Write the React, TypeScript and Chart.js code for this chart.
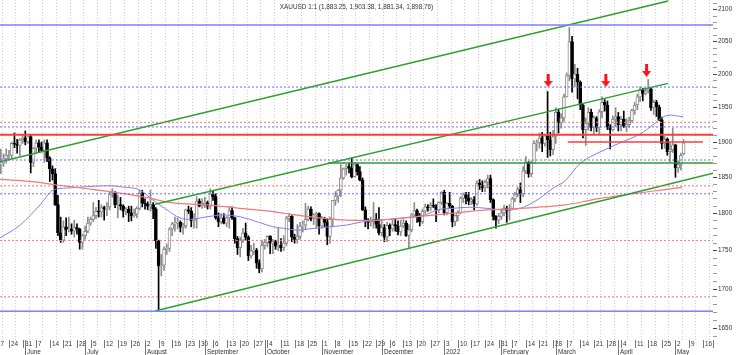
import React, { useEffect, useRef } from "react";
import { Chart, registerables } from "chart.js";

Chart.register(...registerables);

const TITLE = "XAUUSD 1:1 (1,883.25, 1,903.38, 1,881.34, 1,898.76)";

// Daily bars, index 0 = Mon 17 May 2021 (trading days only)
const opens = [
  1838,1867,1869,1870,1876, 1881,1881,1898,1897,1895,
  1903,1906,1900,1908,1871, 1891,1899,1893,1888,1899,
  1877,1862,1855,1812,1774, 1764,1782,1778,1779,1776,
  1781,1779,1761,1770,1776, 1787,1792,1797,1803,1802,
  1808,1806,1809,1826,1829, 1812,1812,1810,1803,1806,
  1801,1797,1799,1807,1828, 1814,1813,1810,1812,1806,
  1763,1730,1731,1752,1753, 1779,1786,1787,1788,1781,
  1783,1805,1803,1790,1793, 1817,1810,1814,1815,1810,
  1827,1823,1794,1789,1794, 1787,1794,1804,1794,1766,
  1754,1764,1774,1768,1743, 1750,1751,1734,1726,1757,
  1761,1769,1760,1762,1756, 1757,1754,1760,1793,1796,
  1768,1765,1769,1783,1784, 1792,1806,1793,1798,1800,
  1783,1793,1788,1769,1792, 1818,1824,1832,1849,1862,
  1865,1863,1851,1868,1858, 1846,1805,1790,1788,1789,
  1792,1785,1774,1781,1768, 1784,1779,1785,1783,1775,
  1783,1787,1770,1778,1798, 1804,1795,1789,1803,1809,
  1808,1811,1810,1805,1815, 1829,1801,1814,1810,1789,
  1797,1801,1821,1826,1821, 1817,1819,1813,1842,1839,
  1835,1843,1848,1819,1796, 1791,1796,1801,1807,1804,
  1807,1820,1826,1833,1827, 1859,1871,1855,1870,1898,
  1899,1906,1898,1909,1903, 1889,1908,1943,1928,1935,
  1966,1998,2050,1993,2000, 1988,1954,1918,1927,1943,
  1921,1935,1921,1944,1958, 1954,1922,1918,1933,1937,
  1925,1933,1923,1925,1931, 1946,1954,1966,1977,1971,
  1975,1978,1950,1958,1951, 1932,1898,1904,1886,1889,
  1896,1863,1868,1883.25,
];
const highs = [
  1869,1874,1890,1883,1890, 1888,1900,1913,1904,1905,
  1910,1916,1908,1910,1892, 1903,1903,1900,1903,1903,
  1879,1866,1862,1825,1795, 1790,1794,1795,1786,1791,
  1786,1780,1772,1783,1795, 1795,1815,1808,1818,1812,
  1810,1815,1829,1834,1830, 1825,1822,1812,1808,1810,
  1810,1806,1809,1832,1832, 1820,1816,1832,1815,1808,
  1764,1745,1755,1759,1781, 1788,1795,1794,1790,1787,
  1806,1810,1808,1800,1823, 1820,1820,1822,1817,1834,
  1831,1827,1801,1800,1800, 1796,1809,1809,1795,1769,
  1768,1780,1787,1770,1757, 1760,1753,1738,1764,1765,
  1770,1770,1765,1764,1781, 1766,1770,1796,1800,1797,
  1772,1785,1788,1790,1814, 1810,1809,1800,1802,1801,
  1796,1795,1792,1795,1818, 1830,1833,1868,1863,1868,
  1870,1877,1870,1869,1865, 1849,1809,1793,1795,1815,
  1800,1808,1792,1785,1788, 1786,1793,1793,1790,1791,
  1792,1790,1785,1800,1815, 1806,1800,1806,1813,1812,
  1815,1820,1812,1816,1830, 1832,1815,1829,1811,1798,
  1804,1823,1828,1829,1829, 1822,1823,1845,1847,1845,
  1846,1853,1853,1820,1797, 1800,1806,1811,1810,1812,
  1822,1829,1836,1842,1865, 1879,1872,1873,1902,1903,
  1913,1914,1911,1974,1914, 1917,1950,1948,1941,1970,
  2002,2072,2058,2015,2009, 1990,1955,1935,1950,1948,
  1938,1937,1947,1966,1962, 1960,1925,1938,1950,1943,
  1937,1945,1934,1936,1948, 1958,1970,1981,1979,1979,
  1992,1980,1961,1961,1954, 1936,1908,1906,1899,1920,
  1897,1873,1884,1903.38,
];
const lows = [
  1837,1860,1855,1865,1870, 1874,1877,1892,1884,1880,
  1898,1896,1898,1856,1865, 1885,1885,1886,1871,1872,
  1844,1846,1811,1770,1761, 1761,1770,1775,1772,1768,
  1772,1752,1752,1765,1774, 1784,1789,1793,1795,1795,
  1791,1797,1805,1822,1808, 1794,1805,1795,1798,1789,
  1790,1795,1794,1805,1809, 1806,1805,1803,1793,1753,
  1673,1717,1724,1745,1749, 1770,1776,1779,1775,1772,
  1780,1800,1782,1780,1780, 1809,1807,1808,1806,1806,
  1818,1792,1782,1786,1786, 1782,1780,1792,1760,1745,
  1742,1761,1764,1737,1740, 1745,1727,1721,1722,1752,
  1755,1746,1746,1752,1750, 1749,1750,1757,1789,1762,
  1760,1760,1765,1775,1778, 1790,1790,1785,1780,1772,
  1780,1782,1758,1760,1782, 1811,1815,1823,1847,1853,
  1856,1849,1850,1853,1845, 1804,1782,1779,1783,1780,
  1780,1771,1770,1762,1762, 1770,1776,1776,1771,1770,
  1781,1769,1753,1775,1795, 1788,1783,1786,1800,1803,
  1804,1808,1789,1801,1812, 1798,1798,1807,1782,1783,
  1790,1800,1815,1813,1812, 1812,1805,1811,1833,1830,
  1830,1835,1815,1791,1780, 1786,1792,1797,1788,1791,
  1806,1816,1823,1815,1823, 1855,1850,1851,1869,1887,
  1891,1886,1894,1878,1880, 1882,1898,1913,1920,1930,
  1966,1990,1973,1981,1963, 1947,1906,1895,1917,1916,
  1911,1915,1911,1935,1945, 1918,1890,1916,1922,1916,
  1916,1921,1915,1921,1929, 1940,1947,1959,1960,1969,
  1972,1946,1940,1937,1931, 1890,1891,1881,1872,1885,
  1850,1857,1860,1881.34,
];
const closes = [
  1867,1869,1870,1876,1881, 1881,1898,1897,1895,1903,
  1906,1900,1908,1871,1891, 1899,1893,1888,1899,1877,
  1862,1855,1812,1774,1764, 1782,1778,1779,1776,1781,
  1779,1761,1770,1776,1787, 1792,1797,1803,1802,1808,
  1806,1809,1826,1829,1812, 1812,1810,1803,1806,1801,
  1797,1799,1807,1828,1814, 1813,1810,1812,1806,1763,
  1730,1731,1752,1753,1779, 1786,1787,1788,1781,1783,
  1805,1803,1790,1793,1817, 1810,1814,1815,1810,1827,
  1823,1794,1789,1794,1787, 1794,1804,1794,1766,1754,
  1764,1774,1768,1743,1750, 1751,1734,1726,1757,1761,
  1769,1760,1762,1756,1757, 1754,1760,1793,1796,1768,
  1765,1769,1783,1784,1792, 1806,1793,1798,1800,1783,
  1793,1788,1769,1792,1818, 1824,1832,1849,1862,1865,
  1863,1851,1868,1858,1846, 1805,1790,1788,1789,1792,
  1785,1774,1781,1768,1784, 1779,1785,1783,1775,1783,
  1787,1770,1778,1798,1804, 1795,1789,1803,1809,1808,
  1811,1810,1805,1815,1829, 1801,1814,1810,1789,1797,
  1801,1821,1826,1821,1817, 1819,1813,1842,1839,1835,
  1843,1848,1819,1796,1791, 1796,1801,1807,1804,1807,
  1820,1826,1833,1827,1859, 1871,1855,1870,1898,1899,
  1906,1898,1909,1903,1889, 1908,1943,1928,1935,1966,
  1998,2050,1993,2000,1988, 1954,1918,1927,1943,1921,
  1935,1921,1944,1958,1954, 1922,1918,1933,1937,1925,
  1933,1923,1925,1931,1946, 1954,1966,1977,1971,1975,
  1978,1950,1958,1951,1932, 1898,1904,1886,1889,1896,
  1863,1868,1881,1898.76,
];

// Moving averages (bar index, price)
const blueMaIdx = [1.7,9,16.4,21.2,26.3,32.2,42.1,45.8,53.2,57.9,63.1,67.9,71.5,77.8,83.7,89.9,96.2,102.1,106.5,110.9,116.8,123,129.3,135.1,141.4,147.6,153.5,157.9,162.4,168.2,174.4,180.7,186.6,192.9,199.1,205,209.4,215,222.3,229.6,237,242.5,245.1,248,252.8];
const blueMaVal = [1767,1784,1811.7,1832,1835,1836.5,1838.3,1836.8,1832,1818.4,1804.8,1793.8,1792,1795.5,1798,1795.5,1788.8,1782,1779.7,1777.4,1779.7,1782,1784.4,1788.8,1791,1793.4,1795.5,1798,1804.8,1807,1808.5,1807,1804.8,1807,1818.4,1834.7,1845,1869.6,1885.8,1898.6,1911.6,1927.2,1935.6,1939,1936.5];
const redMaIdx = [1.7,13.8,22.6,32.2,42.1,55,65.3,77.8,89.9,102.1,106.5,116.8,129.3,141.4,153.5,168.2,180.7,192.9,209.4,222.3,252.4];
const redMaVal = [1847,1843.8,1839.2,1834.7,1830,1822.3,1814.5,1811.7,1807,1802.4,1800,1795,1791,1791,1795,1800.5,1804.8,1807,1811.7,1820.7,1836];

// Trend channel lines (bar index, price)
const upperChannelIdx = [1.7, 247.3];
const upperChannelVal = [1871.8, 2113.9];
const middleChannelIdx = [58.7, 247.3];
const middleChannelVal = [1812.5, 1986.2];
const lowerChannelIdx = [58.7, 263.8];
const lowerChannelVal = [1672, 1855.6];

// Horizontal levels
const solidBlueLevels = [2075.8, 1671.7];
const dottedBlueLevels = [1980.7, 1921.8, 1874.3, 1827];
const dottedRedLevels = [1928.5, 1838, 1763.7, 1690];
const solidRedLevel = 1910.6;
const redSegmentIdx = [210.4, 260.1];
const redSegmentVal = 1900;
const greenSegmentIdx = [122.3, 263.8];
const greenSegmentVal = 1870;

// Arrows (bar index, price)
const arrowIdx = [203.2, 224.4, 239.4];
const arrowVal = [1990.5, 1990.5, 2005.6];

// Axis labels
const weekLabels = ["17","24","31","7","14","21","28","5","12","19","26","2","9","16","23","30","6","13","20","27","4","11","18","25","1","8","15","22","29","6","13","20","27","3","10","17","24","31","7","14","21","28","7","14","21","28","4","11","18","25","2","9","16"];
const monthLabels = ["June","July","August","September","October","November","December","2022","February","March","April","May"];
const monthStarts = [11,33,55,77,99,120,142,165,186,206,229,250];
const yTickValues: number[] = [];
for (let v = 1640; v <= 2110; v += 10) yTickValues.push(v);

const X_MIN = 1.7;
const X_MAX = 263.8;
const Y_MIN = 1635.7;
const Y_MAX = 2115.5;

const FONT = "'Liberation Sans', Arial, sans-serif";

export default function App() {
  const ref = useRef<HTMLCanvasElement>(null);

  useEffect(() => {
    const canvas = ref.current!;
    const n = closes.length;
    const idx = Array.from({ length: n }, (_, i) => i);
    const up = (i: number) => closes[i] >= opens[i];

    const arrow = document.createElement("canvas");
    arrow.width = 9;
    arrow.height = 13;
    const actx = arrow.getContext("2d")!;
    actx.fillStyle = "#ff1414";
    actx.fillRect(3, 0, 3, 7);
    actx.beginPath();
    actx.moveTo(0, 7);
    actx.lineTo(9, 7);
    actx.lineTo(4.5, 13);
    actx.closePath();
    actx.fill();

    const hLine = (price: number, color: string, width: number, dash: number[], from = X_MIN, to = X_MAX) => ({
      type: "line" as const,
      data: [{ x: from, y: price }, { x: to, y: price }],
      borderColor: color,
      borderWidth: width,
      borderDash: dash,
      pointRadius: 0,
      order: 0,
    });
    const seg = (xs: number[], ys: number[], color: string, width: number) => ({
      type: "line" as const,
      data: xs.map((x, k) => ({ x, y: ys[k] })),
      borderColor: color,
      borderWidth: width,
      pointRadius: 0,
      order: 0,
    });

    const datasets: any[] = [
      ...solidBlueLevels.map((p) => hLine(p, "#7f7fff", 1.6, [])),
      ...dottedBlueLevels.map((p) => hLine(p, "#6a6af0", 1, [2, 2])),
      ...dottedRedLevels.map((p) => hLine(p, "#f47878", 1, [2, 2])),
      hLine(solidRedLevel, "#ff3b3b", 2, []),
      hLine(redSegmentVal, "#ff3b3b", 1.4, [], redSegmentIdx[0], redSegmentIdx[1]),
      hLine(greenSegmentVal, "#2e9e2e", 1.5, [], greenSegmentIdx[0], greenSegmentIdx[1]),
      seg(upperChannelIdx, upperChannelVal, "#2e9e2e", 1.5),
      seg(middleChannelIdx, middleChannelVal, "#2e9e2e", 1.5),
      seg(lowerChannelIdx, lowerChannelVal, "#2e9e2e", 1.5),
      {
        type: "line",
        data: redMaIdx.map((x, k) => ({ x, y: redMaVal[k] })),
        borderColor: "#f07a7a",
        borderWidth: 1.2,
        pointRadius: 0,
        tension: 0.4,
        order: 0,
      },
      {
        type: "line",
        data: blueMaIdx.map((x, k) => ({ x, y: blueMaVal[k] })),
        borderColor: "#8080f2",
        borderWidth: 1,
        pointRadius: 0,
        cubicInterpolationMode: "monotone",
        order: 0,
      },
      {
        type: "line",
        data: arrowIdx.map((x, k) => ({ x, y: arrowVal[k] })),
        showLine: false,
        pointStyle: arrow,
        pointRadius: 6,
        order: 0,
      },
      {
        type: "bar",
        data: idx.map((i) => ({ x: i, y: [opens[i], closes[i]] })),
        backgroundColor: idx.map((i) => (up(i) ? "#ffffff" : "#000000")),
        borderColor: idx.map((i) => (up(i) ? "#8c8c8c" : "#000000")),
        borderWidth: 1,
        borderSkipped: false,
        barThickness: 3,
        grouped: false,
        order: 1,
      },
      {
        type: "bar",
        data: idx.map((i) => ({ x: i, y: [lows[i], highs[i]] })),
        backgroundColor: idx.map((i) => (up(i) ? "#8c8c8c" : "#000000")),
        borderWidth: 0,
        barThickness: 1,
        grouped: false,
        order: 2,
      },
    ];

    const titlePlugin = {
      id: "chartTitle",
      afterDraw(chart: any) {
        const { ctx, chartArea } = chart;
        ctx.save();
        ctx.font = `6.4px ${FONT}`;
        ctx.fillStyle = "#333";
        ctx.textAlign = "center";
        ctx.textBaseline = "middle";
        ctx.fillText(TITLE, (chartArea.left + chartArea.right) / 2, 7);
        ctx.restore();
      },
    };

    const bottomAxisPlugin = {
      id: "bottomAxis",
      afterDraw(chart: any) {
        const { ctx, chartArea, scales } = chart;
        const xs = scales.x;
        const top = chartArea.bottom;
        ctx.save();
        ctx.strokeStyle = "#777";
        ctx.lineWidth = 1;
        ctx.font = `6.4px ${FONT}`;
        ctx.fillStyle = "#333";
        ctx.textAlign = "left";
        ctx.textBaseline = "middle";
        weekLabels.forEach((lab, k) => {
          const px = Math.round(xs.getPixelForValue(k * 5)) + 0.5;
          if (px > chartArea.right + 1) return;
          ctx.beginPath();
          ctx.moveTo(px, top);
          ctx.lineTo(px, top + 8);
          ctx.stroke();
          ctx.fillText(lab, px + 1.5, top + 4.6);
        });
        monthLabels.forEach((lab, k) => {
          const px = Math.round(xs.getPixelForValue(monthStarts[k])) + 0.5;
          ctx.beginPath();
          ctx.moveTo(px, top);
          ctx.lineTo(px, top + 15);
          ctx.stroke();
          ctx.fillText(lab, px + 1.5, top + 12.3);
        });
        ctx.beginPath();
        ctx.moveTo(chartArea.right + 0.5, top);
        ctx.lineTo(chartArea.right + 0.5, top + 8);
        ctx.stroke();
        ctx.restore();
      },
    };

    const chart = new Chart(canvas, {
      type: "bar",
      data: { datasets },
      options: {
        responsive: false,
        animation: false,
        devicePixelRatio: 1,
        events: [],
        layout: { padding: 0, autoPadding: false },
        plugins: {
          legend: { display: false },
          tooltip: { enabled: false },
          title: { display: false },
        },
        scales: {
          x: {
            type: "linear",
            min: X_MIN,
            max: X_MAX,
            bounds: "data",
            offset: false,
            afterBuildTicks: (s: any) => {
              s.ticks = weekLabels.map((_, k) => ({ value: k * 5 }));
            },
            afterFit: (s: any) => {
              s.height = 15;
              s.paddingLeft = 0;
              s.paddingRight = 0;
            },
            ticks: { display: false },
            grid: { color: "#cdcdcd", drawTicks: false, lineWidth: 1 },
            border: { display: false, dash: [1, 2] },
          },
          y: {
            type: "logarithmic",
            position: "right",
            min: Y_MIN,
            max: Y_MAX,
            bounds: "data",
            afterBuildTicks: (s: any) => {
              s.ticks = yTickValues.map((v) => ({ value: v }));
            },
            afterFit: (s: any) => {
              s.width = 27;
              s.paddingTop = 0;
              s.paddingBottom = 0;
            },
            ticks: {
              autoSkip: false,
              padding: 1,
              color: "#333",
              font: { family: FONT, size: 6.4 },
              callback: (v: any) => (Number(v) % 50 === 0 ? String(v) : ""),
            },
            grid: {
              drawOnChartArea: false,
              tickLength: 4,
              tickColor: (c: any) => (c.tick && c.tick.value % 50 === 0 ? "#444" : "#999"),
            },
            border: { display: false },
          },
        },
      } as any,
      plugins: [titlePlugin, bottomAxisPlugin],
    });

    return () => chart.destroy();
  }, []);

  return (
    <div style={{ position: "fixed", left: 0, top: 0, width: 740, height: 355, background: "#fff" }}>
      <canvas ref={ref} width={740} height={355} style={{ display: "block", width: 740, height: 355 }} />
    </div>
  );
}
